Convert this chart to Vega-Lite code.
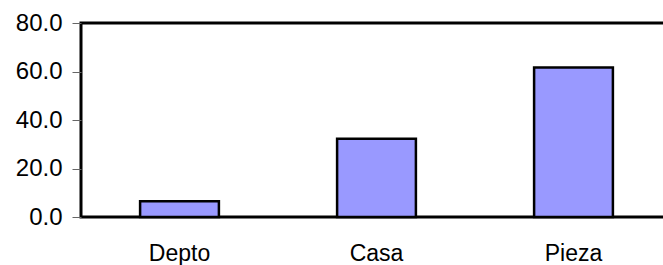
{
  "$schema": "https://vega.github.io/schema/vega-lite/v6.json",
  "autosize": "none",
  "width": 591,
  "height": 194,
  "padding": {"left": 81, "top": 23, "right": 0, "bottom": 48},
  "background": "white",
  "config": {
    "view": {"stroke": "black", "strokeWidth": 3},
    "font": "Liberation Sans"
  },
  "data": {
    "values": [
      {"tipo": "Depto", "valor": 6.5},
      {"tipo": "Casa", "valor": 32.3},
      {"tipo": "Pieza", "valor": 61.6}
    ]
  },
  "mark": {"type": "bar", "fill": "#9999FF", "stroke": "black", "strokeWidth": 2.5},
  "encoding": {
    "x": {
      "field": "tipo",
      "type": "nominal",
      "sort": ["Depto", "Casa", "Pieza"],
      "scale": {"paddingInner": 0.6, "paddingOuter": 0.3},
      "axis": {
        "title": null,
        "domain": false,
        "ticks": false,
        "labelAngle": 0,
        "labelFont": "Liberation Sans",
        "labelFontSize": 23,
        "labelColor": "black",
        "labelBaseline": "alphabetic",
        "labelPadding": 43
      }
    },
    "y": {
      "field": "valor",
      "type": "quantitative",
      "scale": {"domain": [0, 80], "nice": false},
      "axis": {
        "title": null,
        "values": [0, 20, 40, 60, 80],
        "format": ".1f",
        "grid": false,
        "domain": false,
        "tickSize": 9,
        "tickColor": "#666666",
        "labelFont": "Liberation Sans",
        "labelFontSize": 24,
        "labelColor": "black",
        "labelPadding": 10
      }
    }
  }
}
